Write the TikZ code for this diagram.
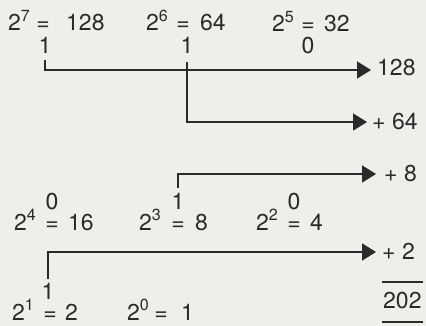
\documentclass[tikz,border=0pt]{standalone}
\usepackage{fontspec}
\setmainfont{TeX Gyre Heros}
\usetikzlibrary{arrows.meta}
\definecolor{bg}{HTML}{EFEEEA}
\definecolor{ink}{HTML}{2A2A2A}
\newcommand\mypow[7]{%
  \node[txt,anchor=base west] (#1b) at (#3,#6) {2\textsuperscript{#2}};
  \node[txt,anchor=base] (#1e) at (#4,#6) {=};
  \node[txt,anchor=base west] (#1v) at (#5,#6) {#7};}
\begin{document}
\begin{tikzpicture}[x=1pt,y=-1pt,
  txt/.style={inner sep=0pt,text=ink,font=\fontsize{23}{27}\selectfont},
  bit/.style={txt,anchor=base},
  arr/.style={draw=ink,line width=1.7pt,-{Triangle[length=14pt,width=17pt]}},
  rule/.style={draw=ink,line width=2.8pt}]
\fill[bg] (0,0) rectangle (426,326);
\useasboundingbox (0,0) rectangle (426,326);
% row 1
\mypow{p7}{7}{8}{43}{66}{31}{128}
\mypow{p6}{6}{146}{183}{200}{31}{64}
\mypow{p5}{5}{272}{308}{324}{32}{32}
\node[bit] (b7) at (45,54) {1};
\node[bit] (b6) at (187,54) {1};
\node[bit] (b5) at (308,54) {0};
% row 2
\mypow{p4}{4}{14}{52}{68}{230}{16}
\mypow{p3}{3}{139}{178}{195}{230}{8}
\mypow{p2}{2}{256}{294}{310}{230}{4}
\node[bit] (b4) at (52,209) {0};
\node[bit] (b3) at (178,209) {1};
\node[bit] (b2) at (294,209) {0};
% row 3
\mypow{p1}{1}{12}{50}{65}{320}{2}
\mypow{p0}{0}{127}{161}{181}{320}{1}
\node[bit] (b1) at (48,299) {1};
% results
\node[txt,anchor=base west] (r1) at (377,76) {128};
\node[txt,anchor=base west] (r2) at (372,130) {+ 64};
\node[txt,anchor=base west] (r3) at (384,182) {+ 8};
\node[txt,anchor=base west] (r4) at (382,259) {+ 2};
\node[txt,anchor=base west] (r5) at (383,308) {202};
\coordinate (t1) at (371,70);
\coordinate (t2) at (367,122);
\coordinate (t3) at (376,174);
\coordinate (t4) at (376,252);
\coordinate (l1a) at (382,282);
\coordinate (l1b) at (423,282);
\coordinate (l2a) at (382,322);
\coordinate (l2b) at (423,322);
% connectors
\draw[arr] ([yshift=-6pt]b7.south) |- (t1);
\draw[arr] ([yshift=-8pt]b6.south) |- (t2);
\draw[arr] ([yshift=4pt]b3.north) |- (t3);
\draw[arr] ([yshift=3pt]b1.north) |- (t4);
\draw[rule] (l1a) -- (l1b);
\draw[rule] (l2a) -- (l2b);
\end{tikzpicture}
\end{document}
